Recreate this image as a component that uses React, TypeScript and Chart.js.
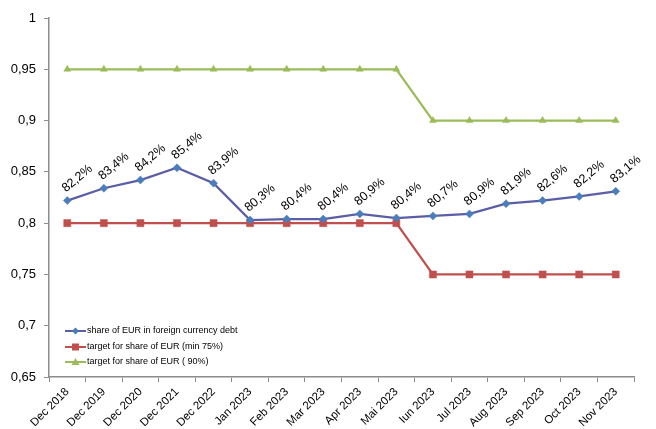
import React, { useEffect, useRef } from "react";
import { Chart, registerables } from "chart.js";

Chart.register(...registerables);

const categories = [
  "Dec 2018", "Dec 2019", "Dec 2020", "Dec 2021", "Dec 2022",
  "Jan 2023", "Feb 2023", "Mar 2023", "Apr 2023", "Mai 2023",
  "Iun 2023", "Jul 2023", "Aug 2023", "Sep 2023", "Oct 2023", "Nov 2023",
];
const shareEUR = [0.822, 0.834, 0.842, 0.854, 0.839, 0.803, 0.804, 0.804, 0.809, 0.805, 0.807, 0.809, 0.819, 0.822, 0.826, 0.831];
const shareLabels = ["82,2%", "83,4%", "84,2%", "85,4%", "83,9%", "80,3%", "80,4%", "80,4%", "80,9%", "80,4%", "80,7%", "80,9%", "81,9%", "82,6%", "82,2%", "83,1%"];
const targetMin75 = [0.8, 0.8, 0.8, 0.8, 0.8, 0.8, 0.8, 0.8, 0.8, 0.8, 0.75, 0.75, 0.75, 0.75, 0.75, 0.75];
const target90 = [0.95, 0.95, 0.95, 0.95, 0.95, 0.95, 0.95, 0.95, 0.95, 0.95, 0.9, 0.9, 0.9, 0.9, 0.9, 0.9];
const seriesNames = [
  "share of EUR in foreign currency debt",
  "target for share of EUR (min 75%)",
  "target for share of EUR ( 90%)",
];
const yMin = 0.65;
const yMax = 1;
const yStep = 0.05;

const FONT = "'Liberation Sans', Arial, sans-serif";

const dataLabelPlugin = {
  id: "dataLabels",
  afterDatasetsDraw(chart: any) {
    const meta = chart.getDatasetMeta(0);
    const ctx = chart.ctx;
    ctx.save();
    ctx.font = `12.5px ${FONT}`;
    ctx.fillStyle = "#000";
    ctx.textAlign = "center";
    ctx.textBaseline = "middle";
    meta.data.forEach((pt: any, i: number) => {
      ctx.save();
      ctx.translate(pt.x + 10, pt.y - 22);
      ctx.rotate((-40 * Math.PI) / 180);
      ctx.fillText(shareLabels[i], 0, 0);
      ctx.restore();
    });
    ctx.restore();
  },
};

const legendPlugin = {
  id: "innerLegend",
  afterDraw(chart: any) {
    const ctx = chart.ctx;
    const area = chart.chartArea;
    const rows = [-46, -30, -15];
    ctx.save();
    chart.data.datasets.forEach((ds: any, i: number) => {
      const y = area.bottom + rows[i];
      const x0 = area.left + 16;
      const x1 = area.left + 37;
      ctx.strokeStyle = ds.borderColor;
      ctx.lineWidth = 2;
      ctx.beginPath();
      ctx.moveTo(x0, y);
      ctx.lineTo(x1, y);
      ctx.stroke();
      const cx = (x0 + x1) / 2;
      ctx.fillStyle = ds.pointBackgroundColor;
      ctx.beginPath();
      if (ds.pointStyle === "rectRot") {
        ctx.moveTo(cx, y - 3.5);
        ctx.lineTo(cx + 3.5, y);
        ctx.lineTo(cx, y + 3.5);
        ctx.lineTo(cx - 3.5, y);
      } else if (ds.pointStyle === "rect") {
        ctx.rect(cx - 3.5, y - 3.5, 7, 7);
      } else {
        ctx.moveTo(cx, y - 4);
        ctx.lineTo(cx + 4, y + 3);
        ctx.lineTo(cx - 4, y + 3);
      }
      ctx.closePath();
      ctx.fill();
      ctx.fillStyle = "#000";
      ctx.font = `9px ${FONT}`;
      ctx.textAlign = "left";
      ctx.textBaseline = "middle";
      ctx.fillText(ds.label, x1 + 1, y);
    });
    ctx.restore();
  },
};

export default function App() {
  const ref = useRef<HTMLCanvasElement | null>(null);

  useEffect(() => {
    if (!ref.current) return;
    const chart = new Chart(ref.current, {
      type: "line",
      data: {
        labels: categories,
        datasets: [
          {
            label: seriesNames[0],
            data: shareEUR,
            borderColor: "#5B5EA6",
            backgroundColor: "#4A7EBB",
            pointBackgroundColor: "#4A7EBB",
            pointBorderColor: "#4A7EBB",
            pointStyle: "rectRot",
            pointRadius: 4,
            pointBorderWidth: 0.5,
            borderWidth: 2.25,
            tension: 0,
          },
          {
            label: seriesNames[1],
            data: targetMin75,
            borderColor: "#C0504D",
            backgroundColor: "#C0504D",
            pointBackgroundColor: "#C0504D",
            pointBorderColor: "#C0504D",
            pointStyle: "rect",
            pointRadius: 5,
            pointBorderWidth: 0.5,
            borderWidth: 2.25,
            tension: 0,
          },
          {
            label: seriesNames[2],
            data: target90,
            borderColor: "#9BBB59",
            backgroundColor: "#9BBB59",
            pointBackgroundColor: "#9BBB59",
            pointBorderColor: "#9BBB59",
            pointStyle: "triangle",
            pointRadius: 4,
            pointBorderWidth: 0.5,
            borderWidth: 2.25,
            tension: 0,
          },
        ],
      },
      options: {
        animation: false,
        responsive: true,
        maintainAspectRatio: false,
        layout: { padding: { top: 18, right: 22, left: 0, bottom: 0 } },
        plugins: {
          legend: { display: false },
          tooltip: { enabled: false },
        },
        scales: {
          x: {
            offset: true,
            grid: {
              display: true,
              drawOnChartArea: false,
              tickLength: 5,
              color: "#8C8C8C",
              offset: true,
            },
            border: { color: "#8C8C8C", width: 1.5 },
            ticks: {
              autoSkip: false,
              maxRotation: 45,
              minRotation: 45,
              color: "#000",
              padding: 3,
              font: { family: FONT, size: 11.5 },
            },
            afterFit(scale: any) {
              scale.height = 52;
            },
          },
          y: {
            min: yMin,
            max: yMax,
            grid: {
              display: true,
              drawOnChartArea: false,
              tickLength: 5,
              color: "#8C8C8C",
            },
            border: { color: "#8C8C8C", width: 1.5 },
            ticks: {
              stepSize: yStep,
              color: "#000",
              padding: 8,
              font: { family: FONT, size: 13 },
              callback: (v: any) => String(Number(Number(v).toFixed(2))).replace(".", ","),
            },
            afterFit(scale: any) {
              scale.width = 49;
            },
          },
        },
      },
      plugins: [dataLabelPlugin, legendPlugin],
    });
    return () => chart.destroy();
  }, []);

  return (
    <div style={{ position: "absolute", left: 0, top: 0, width: 656, height: 429, background: "#fff" }}>
      <canvas ref={ref} />
    </div>
  );
}
